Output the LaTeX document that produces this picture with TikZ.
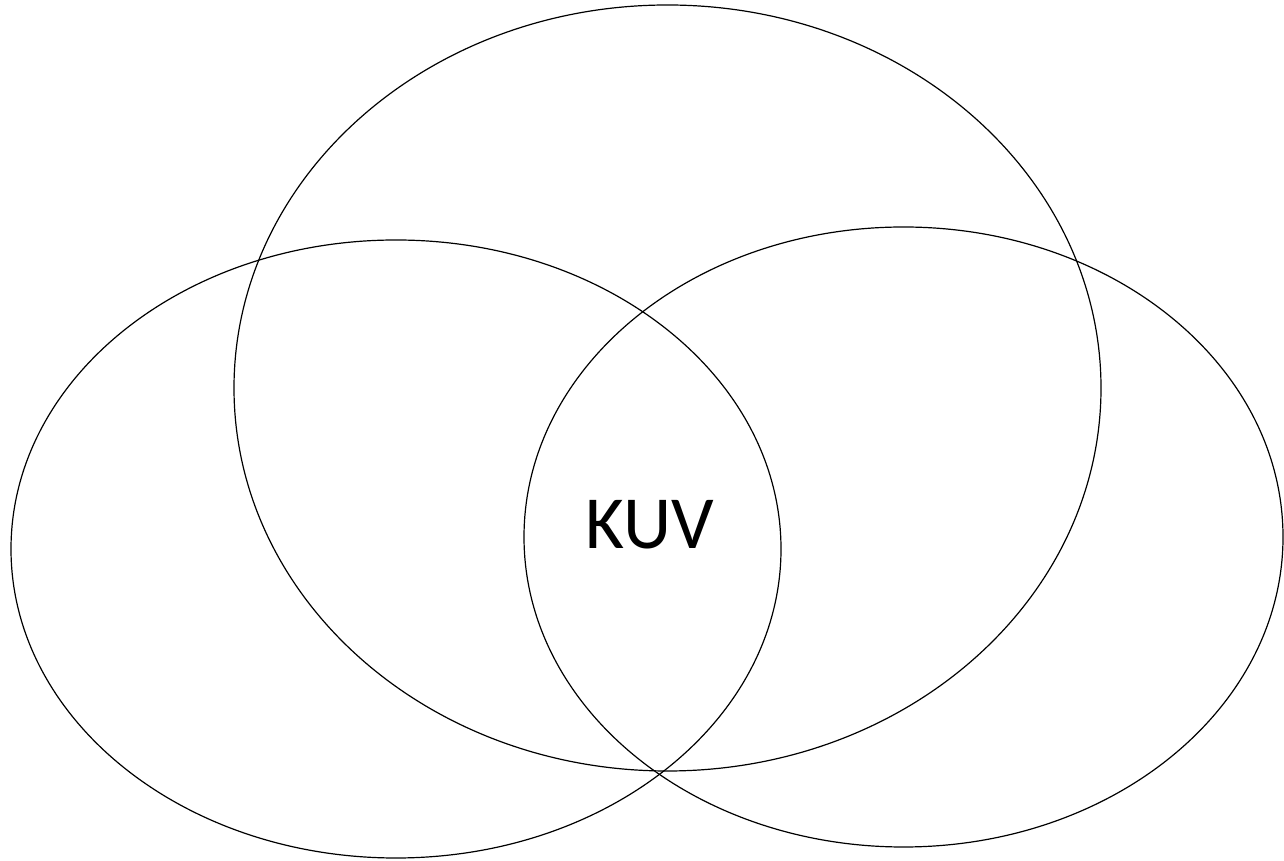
\documentclass[tikz,border=0pt]{standalone}
\usepackage{fontspec}
\setmainfont{Carlito}
\usetikzlibrary{shapes.geometric}
\begin{document}
\begin{tikzpicture}[x=1pt,y=1pt,set/.style={ellipse,draw,line width=1.2pt,inner sep=0pt}]
        \useasboundingbox (0,0) rectangle (1284,861);

        \node[set, minimum width=867pt, minimum height=766pt] (1) at (667.5,473) {};
        \node[set, minimum width=770pt, minimum height=618pt] (2) at (396,312) {};
        \node[set, minimum width=759pt, minimum height=620pt] (3) at (903.5,324) {};

        \node[font=\fontsize{75}{90}\selectfont] (4) at (650,336) {KUV};
    \end{tikzpicture}
\end{document}
